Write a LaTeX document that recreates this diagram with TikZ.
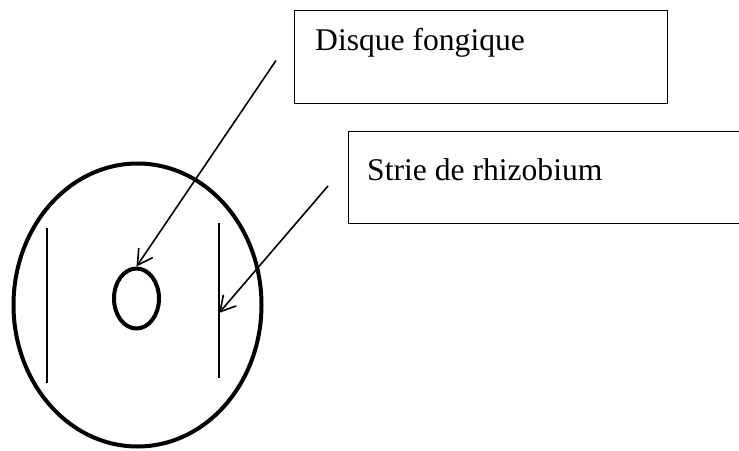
\documentclass[tikz,border=0pt]{standalone}
\usepackage{fontspec}
\setmainfont{Liberation Serif}
\usetikzlibrary{arrows.meta,shapes.geometric}
\begin{document}
\begin{tikzpicture}[x=1pt,y=-1pt,
  labelbox/.style={draw,line width=1.3pt,inner sep=0pt},
  labeltext/.style={anchor=base west,inner sep=0pt,font=\fontsize{31.6}{36}\selectfont},
  thickline/.style={line width=4pt},
  strie/.style={line width=1.9pt},
  pointer/.style={line width=1.6pt,-{Straight Barb[length=15pt,width=17pt,line width=1.6pt]}}]
\useasboundingbox (0,0) rectangle (739,450);
% plate
\node[thickline,draw,ellipse,minimum width=248pt,minimum height=283pt,inner sep=0pt] (plate) at (137.5,305) {};
\node[thickline,draw,ellipse,minimum width=45pt,minimum height=60pt,inner sep=0pt] (disc) at (136.5,298.5) {};
% streaks
\coordinate (ls1) at (47,228); \coordinate (ls2) at (47,383);
\coordinate (rs1) at (219,223); \coordinate (rs2) at (219,378);
\draw[strie] (ls1) -- (ls2);
\draw[strie] (rs1) -- (rs2);
% boxes
\node[labelbox,minimum width=373pt,minimum height=93pt,anchor=north west] (box1) at (294,10) {};
\node[labeltext] (t1) at (315,50) {Disque fongique};
\node[labelbox,minimum width=391pt,minimum height=92pt,anchor=north west] (box2) at (348,131) {};
\node[labeltext] (t2) at (367,180) {Strie de rhizobium};
% arrows
\coordinate (a1s) at (276,60.5);
\coordinate (a2s) at (328,186);
\coordinate (a2e) at (219,313);
\draw[pointer] (a1s) -- (disc.north);
\draw[pointer] (a2s) -- (a2e);
\end{tikzpicture}
\end{document}
